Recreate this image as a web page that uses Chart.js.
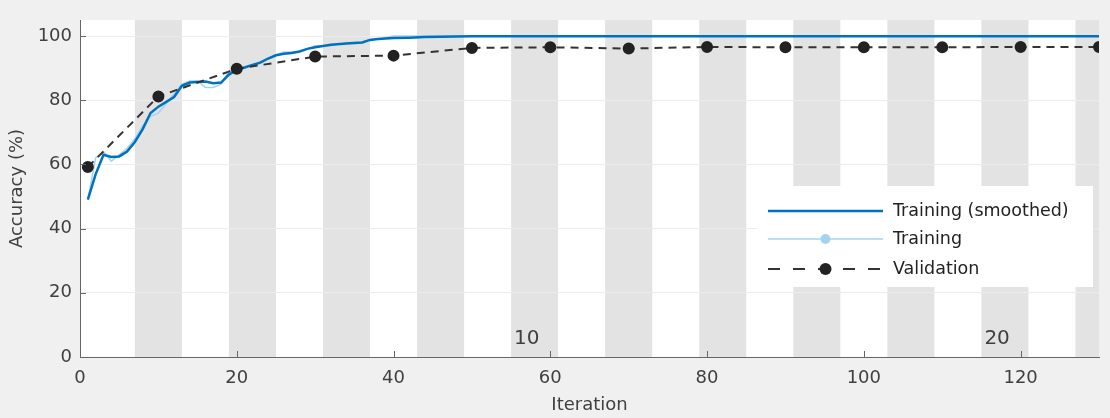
<!DOCTYPE html>
<html>
<head>
<meta charset="utf-8">
<script src="https://cdn.jsdelivr.net/npm/chart.js@4"></script>
<style>
    html, body { margin: 0; padding: 0; background: #f0f0f0; }
    canvas { display: block; }
</style>
</head>
<body>
<canvas id="acc-chart" width="1110" height="418"></canvas>
<script>
// ========== data ==========

// training, smoothed (iteration -> accuracy %)
const smoothIter = [1, 2, 3, 4, 5, 6, 7, 8, 9, 10, 11, 12, 13, 14, 15, 16, 17, 18, 19, 20,
    21, 22, 23, 24, 25, 26, 27, 28, 29, 30, 32, 34, 36, 37, 38, 40, 42, 44, 46, 50,
    60, 70, 80, 90, 100, 110, 120, 130];
const smoothAcc = [49, 57, 63, 62.3, 62.5, 64, 67, 71, 76, 78, 79.5, 81, 84.5, 85.5, 85.7, 85.8, 85.3, 85.5, 88, 89.5,
    90.2, 91, 91.7, 93, 94, 94.5, 94.7, 95.2, 96, 96.5, 97.3, 97.7, 98, 98.8, 99.1, 99.4, 99.5, 99.7, 99.8, 99.9,
    99.9, 99.9, 99.9, 99.9, 99.9, 99.9, 99.9, 99.9];

// training, raw
const trainAcc = [49, 62, 64, 61, 63, 65, 68, 72, 75, 76, 79, 82, 85, 86, 86, 84, 84, 85, 89, 90,
    90, 91, 92, 93, 94, 95, 95, 95, 96, 97, 97, 98, 98, 99, 99, 100, 100, 100, 100, 100,
    100, 100, 100, 100, 100, 100, 100, 100];

// validation
const valIter = [1, 10, 20, 30, 40, 50, 60, 70, 80, 90, 100, 110, 120, 130];
const valAcc = [59.2, 81.2, 89.8, 93.6, 93.9, 96.3, 96.5, 96.1, 96.6, 96.5, 96.5, 96.5, 96.6, 96.6];

// axis ticks
const xTicks = [0, 20, 40, 60, 80, 100, 120];
const yTicks = [0, 20, 40, 60, 80, 100];

// epochs (shaded every other epoch)
const itersPerEpoch = 6;
const shadedEpochs = [2, 4, 6, 8, 10, 12, 14, 16, 18, 20, 22];
const epochLabels = ['10', '20'];
const epochLabelIter = [57, 117];

const FONT = "'DejaVu Sans', sans-serif";

function toPoints(xs, ys) {
    return xs.map((x, i) => ({ x: x, y: ys[i] }));
}

// 背景、阴影、刻度、图例
const decorPlugin = {
    id: 'decor',
    beforeDraw(chart) {
        const { ctx, chartArea: a, scales: { x } } = chart;
        ctx.save();
        ctx.fillStyle = '#ffffff';
        ctx.fillRect(a.left, a.top, a.right - a.left, a.bottom - a.top);
        ctx.fillStyle = '#e3e3e3';
        shadedEpochs.forEach(e => {
            const x0 = Math.max(x.getPixelForValue((e - 1) * itersPerEpoch + 1), a.left);
            const x1 = Math.min(x.getPixelForValue(e * itersPerEpoch + 1), a.right);
            if (x1 > x0) ctx.fillRect(x0, a.top, x1 - x0, a.bottom - a.top);
        });
        ctx.restore();
    },
    afterDraw(chart) {
        const { ctx, chartArea: a, scales: { x, y } } = chart;
        ctx.save();

        // inward tick marks
        ctx.strokeStyle = '#666';
        ctx.lineWidth = 1;
        ctx.beginPath();
        x.ticks.forEach(t => {
            const px = Math.round(x.getPixelForValue(t.value)) + 0.5;
            ctx.moveTo(px, a.bottom);
            ctx.lineTo(px, a.bottom - 6);
        });
        y.ticks.forEach(t => {
            const py = Math.round(y.getPixelForValue(t.value)) + 0.5;
            ctx.moveTo(a.left, py);
            ctx.lineTo(a.left + 6, py);
        });
        ctx.stroke();

        // epoch labels
        ctx.fillStyle = '#404040';
        ctx.font = '20px ' + FONT;
        ctx.textAlign = 'center';
        ctx.textBaseline = 'middle';
        epochLabels.forEach((lbl, i) => {
            ctx.fillText(lbl, x.getPixelForValue(epochLabelIter[i]), a.bottom - 18);
        });

        // legend
        const ds = chart.data.datasets;
        const bx = 757, by = 186, bw = 336, bh = 101;
        ctx.fillStyle = '#ffffff';
        ctx.fillRect(bx, by, bw, bh);
        const rows = [211, 239, 269];
        const lx0 = 768, lx1 = 883, tx = 893;
        ctx.font = '17.5px ' + FONT;
        ctx.textAlign = 'left';
        ds.forEach((d, i) => {
            const ry = rows[i];
            ctx.strokeStyle = d.borderColor;
            ctx.lineWidth = d.borderWidth;
            ctx.setLineDash(d.borderDash ? [12, 13] : []);
            ctx.beginPath();
            ctx.moveTo(lx0, ry);
            ctx.lineTo(lx1, ry);
            ctx.stroke();
            ctx.setLineDash([]);
            if (d.legendMarker) {
                ctx.fillStyle = d.legendMarker;
                ctx.beginPath();
                ctx.arc((lx0 + lx1) / 2, ry, d.legendMarkerR, 0, Math.PI * 2);
                ctx.fill();
            }
            ctx.fillStyle = '#222';
            ctx.fillText(d.label, tx, ry);
        });
        ctx.restore();
    }
};

const ctx = document.getElementById('acc-chart');

const accChart = new Chart(ctx, {
    type: 'line',
    data: {
        datasets: [
            {
                label: 'Training (smoothed)',
                data: toPoints(smoothIter, smoothAcc),
                borderColor: '#0072BD',
                borderWidth: 2.5,
                pointRadius: 0,
                tension: 0,
                order: 1
            },
            {
                label: 'Training',
                data: toPoints(smoothIter, trainAcc),
                borderColor: '#a6d2f2',
                borderWidth: 1.5,
                pointRadius: 0,
                tension: 0,
                order: 2,
                legendMarker: '#a6d2f2',
                legendMarkerR: 5
            },
            {
                label: 'Validation',
                data: toPoints(valIter, valAcc),
                borderColor: '#333333',
                borderWidth: 2,
                borderDash: [8, 6],
                pointRadius: 5,
                pointBackgroundColor: '#222222',
                pointBorderColor: '#222222',
                tension: 0,
                order: 0,
                legendMarker: '#222222',
                legendMarkerR: 6
            }
        ]
    },
    options: {
        responsive: false,
        animation: false,
        devicePixelRatio: 1,
        layout: { padding: { top: 20, right: 11, left: 0, bottom: 0 } },
        plugins: {
            legend: { display: false },
            tooltip: { enabled: false }
        },
        scales: {
            x: {
                type: 'linear',
                min: 0,
                max: 130,
                afterBuildTicks: s => { s.ticks = xTicks.map(v => ({ value: v })); },
                afterFit: s => { s.height = 61; },
                ticks: { padding: 11, color: '#404040', font: { family: FONT, size: 18 } },
                grid: { display: false, drawTicks: false },
                border: { color: '#666', width: 1 },
                title: {
                    display: true,
                    text: 'Iteration',
                    color: '#404040',
                    font: { family: FONT, size: 18 },
                    padding: { top: 0, bottom: 2 }
                }
            },
            y: {
                min: 0,
                max: 105,
                afterBuildTicks: s => { s.ticks = yTicks.map(v => ({ value: v })); },
                afterFit: s => { s.width = 80; },
                ticks: { padding: 8, color: '#404040', font: { family: FONT, size: 18 } },
                grid: { color: '#ececec', drawTicks: false },
                border: { color: '#666', width: 1 },
                title: {
                    display: true,
                    text: 'Accuracy (%)',
                    color: '#404040',
                    font: { family: FONT, size: 18 },
                    padding: { top: 7, bottom: 0 }
                }
            }
        }
    },
    plugins: [decorPlugin]
});
</script>
</body>
</html>
